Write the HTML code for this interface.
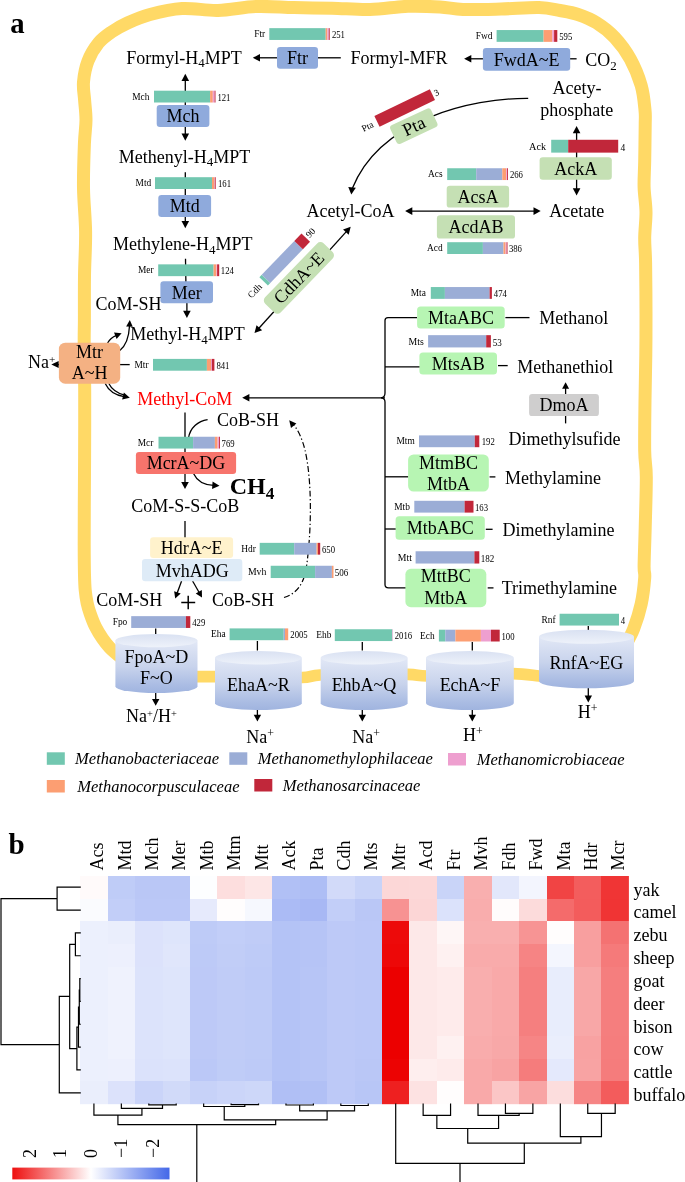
<!DOCTYPE html>
<html lang="en"><head><meta charset="utf-8"><title>Methanogenesis pathways and heatmap</title>
<style>html,body{margin:0;padding:0;background:#fff}svg{display:block}</style></head>
<body>
<svg width="685" height="1182" viewBox="0 0 685 1182" font-family="Liberation Serif, serif">
<defs>
<linearGradient id="cg" x1="0" y1="0" x2="0" y2="1"><stop offset="0" stop-color="#E2E8F6"/><stop offset="0.5" stop-color="#C8D3EC"/><stop offset="0.85" stop-color="#AABCE3"/><stop offset="1" stop-color="#A0B4DF"/></linearGradient>
<linearGradient id="ce" x1="0" y1="0" x2="0" y2="1"><stop offset="0" stop-color="#D9E1F2"/><stop offset="1" stop-color="#EEF2FA"/></linearGradient>
<linearGradient id="lg" x1="0" y1="0" x2="1" y2="0"><stop offset="0" stop-color="#EE0F0F"/><stop offset="0.5" stop-color="#FFFFFF"/><stop offset="1" stop-color="#4468E8"/></linearGradient>
</defs>
<rect width="685" height="1182" fill="#fff"/>
<path d="M123 659 C121.83 658.05 118.25 655.25 116 653.3 C113.75 651.35 111.77 649.78 109.5 647.3 C107.23 644.82 104.75 641.83 102.4 638.4 C100.05 634.97 97.42 630.77 95.4 626.7 C93.38 622.63 91.67 617.88 90.3 614 C88.93 610.12 88.05 607.4 87.2 603.4 C86.35 599.4 85.65 594.73 85.2 590 C84.75 585.27 84.67 582.5 84.5 575 C84.33 567.5 84.23 556.33 84.2 545 C84.17 533.67 84.23 521.83 84.3 507 C84.37 492.17 84.53 475 84.6 456 C84.67 437 84.77 412 84.7 393 C84.63 374 84.25 354.17 84.2 342 C84.15 329.83 84.35 331 84.4 320 C84.45 309 84.3 290.67 84.5 276 C84.7 261.33 85.77 246.67 85.6 232 C85.43 217.33 83.7 202.67 83.5 188 C83.3 173.33 83.98 155.33 84.4 144 C84.82 132.67 85.97 127.33 86 120 C86.03 112.67 85.02 106.33 84.6 100 C84.18 93.67 82.93 88.5 83.5 82 C84.07 75.5 85.5 67.5 88 61 C90.5 54.5 94.58 47.83 98.5 43 C102.42 38.17 106.67 35.33 111.5 32 C116.33 28.67 121.08 25.92 127.5 23 C133.92 20.08 140.92 16.92 150 14.5 C159.08 12.08 170.67 9.18 182 8.5 C193.33 7.82 205.67 10.73 218 10.4 C230.33 10.07 243.33 6.97 256 6.5 C268.67 6.03 281.33 7.32 294 7.6 C306.67 7.88 319.33 7.88 332 8.2 C344.67 8.52 357.33 9.82 370 9.5 C382.67 9.18 396.33 6.72 408 6.3 C419.67 5.88 430.83 6.47 440 7 C449.17 7.53 452.83 9.17 463 9.5 C473.17 9.83 488.33 9.33 501 9 C513.67 8.67 529.17 7.25 539 7.5 C548.83 7.75 553.5 9.33 560 10.5 C566.5 11.67 571.92 12.45 578 14.5 C584.08 16.55 590.38 18.97 596.5 22.8 C602.62 26.63 609.07 31.47 614.7 37.5 C620.33 43.53 625.88 51 630.3 59 C634.72 67 638.75 77 641.2 85.5 C643.65 94 644.33 103.42 645 110 C645.67 116.58 645.25 116.5 645.2 125 C645.15 133.5 644.88 150.67 644.7 161 C644.52 171.33 643.88 178.5 644.1 187 C644.32 195.5 645.9 203.5 646 212 C646.1 220.5 644.77 229.5 644.7 238 C644.63 246.5 645.38 250.33 645.6 263 C645.82 275.67 645.97 298.67 646 314 C646.03 329.33 645.97 340.5 645.8 355 C645.63 369.5 645.18 385 645 401 C644.82 417 644.48 438.33 644.7 451 C644.92 463.67 646.22 464.17 646.3 477 C646.38 489.83 645.57 513.17 645.2 528 C644.83 542.83 644.18 557.67 644.1 566 C644.02 574.33 645.18 571.67 644.7 578 C644.22 584.33 643.05 595.5 641.2 604 C639.35 612.5 636.13 622.33 633.6 629 C631.07 635.67 627.27 641.5 626 644" fill="none" stroke="#FFD966" stroke-width="13" stroke-linecap="butt" stroke-linejoin="round"/>
<path d="M190 676.6 C194.17 676.6 203.33 676.53 215 676.6 C226.67 676.67 245.5 676.85 260 677 C274.5 677.15 292 677.83 302 677.5 C312 677.17 309.67 675.5 320 675 C330.33 674.5 349.33 674.6 364 674.5 C378.67 674.4 397.5 674.15 408 674.4 C418.5 674.65 416.67 675.82 427 676 C437.33 676.18 455.67 675.9 470 675.5 C484.33 675.1 501.5 673.52 513 673.6 C524.5 673.68 532.83 675.43 539 676 C545.17 676.57 548.17 676.83 550 677" fill="none" stroke="#FFD966" stroke-width="11.6"/>
<text x="10.3" y="32.5" font-size="28.7" text-anchor="start" fill="#000" font-weight="bold">a</text>
<text x="8.5" y="853.8" font-size="29" text-anchor="start" fill="#000" font-weight="bold">b</text>
<polygon points="185.3,140.8 181.5,133.6 189.1,133.6" fill="#000"/>
<polygon points="185.3,73.7 189.1,80.9 181.5,80.9" fill="#000"/>
<line x1="185.3" y1="79.9" x2="185.3" y2="134.6" stroke="#000" stroke-width="1.3"/>
<polygon points="185.3,228.2 181.5,221 189.1,221" fill="#000"/>
<line x1="185.3" y1="172.3" x2="185.3" y2="222" stroke="#000" stroke-width="1.3"/>
<line x1="185.5" y1="258.8" x2="185.9" y2="283" stroke="#000" stroke-width="1.3"/>
<polygon points="186.9,318 183.1,310.8 190.7,310.8" fill="#000"/>
<line x1="186.9" y1="300" x2="186.9" y2="311.8" stroke="#000" stroke-width="1.3"/>
<polygon points="185,489.1 181.2,481.9 188.8,481.9" fill="#000"/>
<line x1="185" y1="412.6" x2="185" y2="482.9" stroke="#000" stroke-width="1.3"/>
<line x1="185" y1="521" x2="185" y2="538" stroke="#000" stroke-width="1.3"/>
<polygon points="175.2,598.5 174.15,591.19 180.72,593.6" fill="#000"/>
<line x1="181.6" y1="581" x2="177.09" y2="593.33" stroke="#000" stroke-width="1.3"/>
<polygon points="202,597.5 195.74,593.58 201.82,590.12" fill="#000"/>
<line x1="192.6" y1="581" x2="199.28" y2="592.72" stroke="#000" stroke-width="1.3"/>
<polygon points="252.8,57.8 260,54 260,61.6" fill="#000"/>
<line x1="278" y1="57.8" x2="259" y2="57.8" stroke="#000" stroke-width="1.3"/>
<line x1="318" y1="57.8" x2="340.8" y2="57.8" stroke="#000" stroke-width="1.3"/>
<polygon points="464.1,58.8 471.3,55 471.3,62.6" fill="#000"/>
<line x1="484" y1="58.8" x2="470.3" y2="58.8" stroke="#000" stroke-width="1.3"/>
<line x1="570" y1="58.8" x2="576.6" y2="58.8" stroke="#000" stroke-width="1.3"/>
<polygon points="540.7,211.1 533.5,214.9 533.5,207.3" fill="#000"/>
<polygon points="405.1,211.1 412.3,207.3 412.3,214.9" fill="#000"/>
<line x1="411.3" y1="211.1" x2="534.5" y2="211.1" stroke="#000" stroke-width="1.3"/>
<polygon points="576.6,195.4 572.8,188.2 580.4,188.2" fill="#000"/>
<polygon points="576.6,126 580.4,133.2 572.8,133.2" fill="#000"/>
<line x1="576.6" y1="132.2" x2="576.6" y2="189.2" stroke="#000" stroke-width="1.3"/>
<path d="M528.2 98.4 C470 98 380 120 352.5 188" fill="none" stroke="#000" stroke-width="1.3" />
<polygon points="351.3,194.6 348.27,187.04 355.83,187.84" fill="#000"/>
<polygon points="350.7,226.8 348.69,234.69 343.05,229.59" fill="#000"/>
<polygon points="254.5,333.1 256.51,325.21 262.15,330.31" fill="#000"/>
<line x1="258.66" y1="328.5" x2="346.54" y2="231.4" stroke="#000" stroke-width="1.3"/>
<line x1="129.7" y1="364.6" x2="119" y2="364.6" stroke="#000" stroke-width="1.3"/>
<polygon points="51.3,364.6 58.7,361.1 58.7,368.1" fill="#000"/>
<line x1="59.5" y1="364.6" x2="57.7" y2="364.6" stroke="#000" stroke-width="1.3"/>
<path d="M119.8 350.5 C126 345.5 129 336 129.5 326" fill="none" stroke="#000" stroke-width="1.3" />
<polygon points="129.8,319.9 132.74,326.86 126.15,326.52" fill="#000"/>
<path d="M107.6 343 C110 338.5 113.5 336.5 116.5 335.3" fill="none" stroke="#000" stroke-width="1.3" />
<polygon points="121.6,333.2 116.57,338.9 114.02,332.59" fill="#000"/>
<path d="M105.2 383.5 C108.5 390.5 115.5 395.2 124 396.6" fill="none" stroke="#000" stroke-width="1.3" />
<path d="M108.8 383.5 C111.5 389 117.5 393.2 124.5 395.2" fill="none" stroke="#000" stroke-width="1.3" />
<polygon points="129.8,397.7 122.16,399.4 123.85,392.61" fill="#000"/>
<path d="M417 317.6 L388 317.6 Q385 317.6 385 320.6 L385 393 Q385 397.6 381 397.8 Q385 398 385 402 L385 584.5 Q385 587.9 388.5 587.9 L406 587.9" fill="none" stroke="#000" stroke-width="1.3" />
<polygon points="242.2,397.8 249.4,394 249.4,401.6" fill="#000"/>
<line x1="385" y1="397.8" x2="248.4" y2="397.8" stroke="#000" stroke-width="1.3"/>
<line x1="385" y1="366.8" x2="420" y2="366.8" stroke="#000" stroke-width="1.3"/>
<line x1="385" y1="476.8" x2="408.5" y2="476.8" stroke="#000" stroke-width="1.3"/>
<line x1="385" y1="529" x2="396" y2="529" stroke="#000" stroke-width="1.3"/>
<line x1="505.4" y1="317.6" x2="529.5" y2="317.6" stroke="#000" stroke-width="1.3"/>
<line x1="498" y1="365.6" x2="507.7" y2="365.6" stroke="#000" stroke-width="1.3"/>
<line x1="489.6" y1="476.9" x2="495.4" y2="476.9" stroke="#000" stroke-width="1.3"/>
<line x1="485.8" y1="529.3" x2="492.6" y2="529.3" stroke="#000" stroke-width="1.3"/>
<line x1="487.7" y1="587.9" x2="493.5" y2="587.9" stroke="#000" stroke-width="1.3"/>
<polygon points="565.6,382.3 569.1,388.8 562.1,388.8" fill="#000"/>
<line x1="565.6" y1="395" x2="565.6" y2="387.8" stroke="#000" stroke-width="1.3"/>
<line x1="565.6" y1="416" x2="565.6" y2="423.4" stroke="#000" stroke-width="1.3"/>
<path d="M207.6 419.6 C198 421 190 428 188.5 438" fill="none" stroke="#000" stroke-width="1.3" />
<path d="M193.5 473.5 C197 481 205 485 213.5 485.4" fill="none" stroke="#000" stroke-width="1.3" />
<polygon points="219.5,485.7 212.05,488.99 212.58,481.41" fill="#000"/>
<path d="M284 597.5 C296 594 303 585 306 570 C312 530 312 480 305 450 C302 438 298 430 293.5 424.5" fill="none" stroke="#000" stroke-width="1.2" stroke-dasharray="6 2.5 1.3 2.5"/>
<polygon points="289.2,420.3 296.38,423.41 291.02,427.91" fill="#000"/>
<line x1="155.7" y1="628.5" x2="155.7" y2="634" stroke="#000" stroke-width="1.3"/>
<polygon points="155.7,705.8 152,699 159.4,699" fill="#000"/>
<line x1="155.7" y1="692" x2="155.7" y2="700" stroke="#000" stroke-width="1.3"/>
<line x1="257.4" y1="641" x2="257.4" y2="650.5" stroke="#000" stroke-width="1.3"/>
<polygon points="257.4,721.5 253.7,714.7 261.1,714.7" fill="#000"/>
<line x1="257.4" y1="708" x2="257.4" y2="715.7" stroke="#000" stroke-width="1.3"/>
<line x1="362.3" y1="642" x2="362.3" y2="650.5" stroke="#000" stroke-width="1.3"/>
<polygon points="362.3,721.5 358.6,714.7 366,714.7" fill="#000"/>
<line x1="362.3" y1="708" x2="362.3" y2="715.7" stroke="#000" stroke-width="1.3"/>
<line x1="472.3" y1="642" x2="472.3" y2="650.5" stroke="#000" stroke-width="1.3"/>
<polygon points="472.3,721.5 468.6,714.7 476,714.7" fill="#000"/>
<line x1="472.3" y1="708" x2="472.3" y2="715.7" stroke="#000" stroke-width="1.3"/>
<line x1="588.3" y1="626" x2="588.3" y2="630" stroke="#000" stroke-width="1.3"/>
<polygon points="588.3,702.4 584.6,695.6 592,695.6" fill="#000"/>
<line x1="588.3" y1="687" x2="588.3" y2="696.6" stroke="#000" stroke-width="1.3"/>
<rect x="269.3" y="28.15" width="56.4" height="11.8" fill="#72C7B0"/>
<rect x="325.7" y="28.15" width="1.7" height="11.8" fill="#FC9E72"/>
<rect x="327.4" y="28.15" width="1.4" height="11.8" fill="#EE9FCF"/>
<rect x="328.8" y="28.15" width="0.9" height="11.8" fill="#C1273A"/>
<text x="254.2" y="37.15" font-size="9.4" text-anchor="start" fill="#000" >Ftr</text>
<text transform="translate(331.9 38.15) scale(0.89 1)" font-size="9.8">251</text>
<rect x="154" y="90.7" width="56.1" height="11.8" fill="#72C7B0"/>
<rect x="210.1" y="90.7" width="2.7" height="11.8" fill="#FC9E72"/>
<rect x="212.8" y="90.7" width="1.8" height="11.8" fill="#EE9FCF"/>
<rect x="214.6" y="90.7" width="0.9" height="11.8" fill="#C1273A"/>
<text x="132.2" y="99.7" font-size="9.4" text-anchor="start" fill="#000" >Mch</text>
<text transform="translate(217.4 100.7) scale(0.89 1)" font-size="9.8">121</text>
<rect x="155" y="177.2" width="57" height="11.8" fill="#72C7B0"/>
<rect x="212" y="177.2" width="2.3" height="11.8" fill="#FC9E72"/>
<rect x="214.3" y="177.2" width="0.5" height="11.8" fill="#EE9FCF"/>
<rect x="214.8" y="177.2" width="0.9" height="11.8" fill="#C1273A"/>
<text x="135.6" y="186.2" font-size="9.4" text-anchor="start" fill="#000" >Mtd</text>
<text transform="translate(218 187.2) scale(0.89 1)" font-size="9.8">161</text>
<rect x="158.2" y="264.35" width="55.4" height="11.8" fill="#72C7B0"/>
<rect x="213.6" y="264.35" width="2.8" height="11.8" fill="#FC9E72"/>
<rect x="216.4" y="264.35" width="0.7" height="11.8" fill="#EE9FCF"/>
<rect x="217.1" y="264.35" width="2.1" height="11.8" fill="#C1273A"/>
<text x="137.9" y="273.35" font-size="9.4" text-anchor="start" fill="#000" >Mer</text>
<text transform="translate(220.8 274.35) scale(0.89 1)" font-size="9.8">124</text>
<rect x="153" y="358.9" width="53.9" height="11.8" fill="#72C7B0"/>
<rect x="206.9" y="358.9" width="4.1" height="11.8" fill="#FC9E72"/>
<rect x="211" y="358.9" width="0.9" height="11.8" fill="#EE9FCF"/>
<rect x="211.9" y="358.9" width="2.5" height="11.8" fill="#C1273A"/>
<text x="134.5" y="367.9" font-size="9.4" text-anchor="start" fill="#000" >Mtr</text>
<text transform="translate(216.4 368.9) scale(0.89 1)" font-size="9.8">841</text>
<rect x="158.5" y="436.75" width="34.6" height="11.8" fill="#72C7B0"/>
<rect x="193.1" y="436.75" width="21.8" height="11.8" fill="#9BADD6"/>
<rect x="214.9" y="436.75" width="2.7" height="11.8" fill="#FC9E72"/>
<rect x="217.6" y="436.75" width="1.5" height="11.8" fill="#EE9FCF"/>
<rect x="219.1" y="436.75" width="0.9" height="11.8" fill="#C1273A"/>
<text x="137.7" y="445.75" font-size="9.4" text-anchor="start" fill="#000" >Mcr</text>
<text transform="translate(221.6 446.75) scale(0.89 1)" font-size="9.8">769</text>
<rect x="259.7" y="542.85" width="34.5" height="11.8" fill="#72C7B0"/>
<rect x="294.2" y="542.85" width="22.4" height="11.8" fill="#9BADD6"/>
<rect x="316.6" y="542.85" width="1.4" height="11.8" fill="#FC9E72"/>
<rect x="318" y="542.85" width="2.2" height="11.8" fill="#C1273A"/>
<text x="241.2" y="551.85" font-size="9.4" text-anchor="start" fill="#000" >Hdr</text>
<text transform="translate(322 552.85) scale(0.89 1)" font-size="9.8">650</text>
<rect x="270.7" y="565.76" width="44.4" height="12.27" fill="#72C7B0"/>
<rect x="315.1" y="565.76" width="16.8" height="12.27" fill="#9BADD6"/>
<rect x="331.9" y="565.76" width="1.6" height="12.27" fill="#FC9E72"/>
<text x="247.9" y="575.12" font-size="9.78" text-anchor="start" fill="#000" >Mvh</text>
<text transform="translate(334.7 576.12) scale(0.89 1)" font-size="10.19">506</text>
<rect x="131.2" y="616.15" width="54.7" height="11.8" fill="#9BADD6"/>
<rect x="185.9" y="616.15" width="4.4" height="11.8" fill="#C1273A"/>
<text x="112.7" y="625.15" font-size="9.4" text-anchor="start" fill="#000" >Fpo</text>
<text transform="translate(192.2 626.15) scale(0.89 1)" font-size="9.8">429</text>
<rect x="229.6" y="628.4" width="54.1" height="11.8" fill="#72C7B0"/>
<rect x="283.7" y="628.4" width="1.3" height="11.8" fill="#9BADD6"/>
<rect x="285" y="628.4" width="3.2" height="11.8" fill="#FC9E72"/>
<text x="211.1" y="637.4" font-size="9.4" text-anchor="start" fill="#000" >Eha</text>
<text transform="translate(290.3 638.4) scale(0.89 1)" font-size="9.8">2005</text>
<rect x="334.8" y="629.25" width="57.5" height="11.8" fill="#72C7B0"/>
<rect x="392.3" y="629.25" width="0.5" height="11.8" fill="#EE9FCF"/>
<text x="316.3" y="638.25" font-size="9.4" text-anchor="start" fill="#000" >Ehb</text>
<text transform="translate(394.7 639.25) scale(0.89 1)" font-size="9.8">2016</text>
<rect x="438.9" y="629.7" width="6.4" height="11.8" fill="#72C7B0"/>
<rect x="445.3" y="629.7" width="10.1" height="11.8" fill="#9BADD6"/>
<rect x="455.4" y="629.7" width="25.5" height="11.8" fill="#FC9E72"/>
<rect x="480.9" y="629.7" width="10.1" height="11.8" fill="#EE9FCF"/>
<rect x="491" y="629.7" width="8.7" height="11.8" fill="#C1273A"/>
<text x="420.1" y="638.7" font-size="9.4" text-anchor="start" fill="#000" >Ech</text>
<text transform="translate(501.5 639.7) scale(0.89 1)" font-size="9.8">100</text>
<rect x="559.6" y="613.75" width="59.4" height="11.8" fill="#72C7B0"/>
<text x="541.6" y="622.75" font-size="9.4" text-anchor="start" fill="#000" >Rnf</text>
<text transform="translate(620.7 623.75) scale(0.89 1)" font-size="9.8">4</text>
<rect x="496.6" y="30.05" width="47" height="11.8" fill="#72C7B0"/>
<rect x="543.6" y="30.05" width="8.7" height="11.8" fill="#FC9E72"/>
<rect x="552.3" y="30.05" width="1.8" height="11.8" fill="#EE9FCF"/>
<rect x="554.1" y="30.05" width="3.2" height="11.8" fill="#C1273A"/>
<text x="475.8" y="39.05" font-size="9.4" text-anchor="start" fill="#000" >Fwd</text>
<text transform="translate(559.2 40.05) scale(0.89 1)" font-size="9.8">595</text>
<rect x="551.2" y="139.77" width="17" height="12.86" fill="#72C7B0"/>
<rect x="568.2" y="139.77" width="50" height="12.86" fill="#C1273A"/>
<text x="529" y="149.58" font-size="10.25" text-anchor="start" fill="#000" >Ack</text>
<text transform="translate(620.6 150.58) scale(0.89 1)" font-size="10.68">4</text>
<rect x="447.2" y="168.25" width="29" height="11.8" fill="#72C7B0"/>
<rect x="476.2" y="168.25" width="26.1" height="11.8" fill="#9BADD6"/>
<rect x="502.3" y="168.25" width="3.9" height="11.8" fill="#FC9E72"/>
<rect x="506.2" y="168.25" width="0.8" height="11.8" fill="#EE9FCF"/>
<rect x="507" y="168.25" width="0.9" height="11.8" fill="#C1273A"/>
<text x="428" y="177.25" font-size="9.4" text-anchor="start" fill="#000" >Acs</text>
<text transform="translate(509.9 178.25) scale(0.89 1)" font-size="9.8">266</text>
<rect x="447.2" y="242.2" width="35.7" height="11.8" fill="#72C7B0"/>
<rect x="482.9" y="242.2" width="20.6" height="11.8" fill="#9BADD6"/>
<rect x="503.5" y="242.2" width="2.1" height="11.8" fill="#FC9E72"/>
<rect x="505.6" y="242.2" width="1" height="11.8" fill="#EE9FCF"/>
<rect x="506.6" y="242.2" width="0.9" height="11.8" fill="#C1273A"/>
<text x="427.1" y="251.2" font-size="9.4" text-anchor="start" fill="#000" >Acd</text>
<text transform="translate(508.9 252.2) scale(0.89 1)" font-size="9.8">386</text>
<rect x="430.8" y="287.05" width="14.1" height="11.8" fill="#72C7B0"/>
<rect x="444.9" y="287.05" width="44.7" height="11.8" fill="#9BADD6"/>
<rect x="489.6" y="287.05" width="2.3" height="11.8" fill="#C1273A"/>
<text x="410.7" y="296.05" font-size="9.4" text-anchor="start" fill="#000" >Mta</text>
<text transform="translate(493.8 297.05) scale(0.89 1)" font-size="9.8">474</text>
<rect x="428.1" y="335.16" width="58.1" height="12.27" fill="#9BADD6"/>
<rect x="486.2" y="335.16" width="4.7" height="12.27" fill="#C1273A"/>
<text x="408.6" y="344.52" font-size="9.78" text-anchor="start" fill="#000" >Mts</text>
<text transform="translate(492.8 345.52) scale(0.89 1)" font-size="10.19">53</text>
<rect x="419" y="435.4" width="55.8" height="11.8" fill="#9BADD6"/>
<rect x="474.8" y="435.4" width="4.5" height="11.8" fill="#C1273A"/>
<text x="396.5" y="444.4" font-size="9.4" text-anchor="start" fill="#000" >Mtm</text>
<text transform="translate(481.7 445.4) scale(0.89 1)" font-size="9.8">192</text>
<rect x="414.3" y="500.8" width="50.3" height="11.8" fill="#9BADD6"/>
<rect x="464.6" y="500.8" width="8.9" height="11.8" fill="#C1273A"/>
<text x="394.2" y="509.8" font-size="9.4" text-anchor="start" fill="#000" >Mtb</text>
<text transform="translate(475 510.8) scale(0.89 1)" font-size="9.8">163</text>
<rect x="415.6" y="551.26" width="58.8" height="12.27" fill="#9BADD6"/>
<rect x="474.4" y="551.26" width="4.9" height="12.27" fill="#C1273A"/>
<text x="397.8" y="560.62" font-size="9.78" text-anchor="start" fill="#000" >Mtt</text>
<text transform="translate(480.8 561.62) scale(0.89 1)" font-size="10.19">182</text>
<g transform="translate(404.7 108) rotate(-25.8)">
<rect x="-30.8" y="-5.95" width="61.6" height="11.9" fill="#C1273A"/>
<text x="-35.5" y="3.6" font-size="9.5" text-anchor="end" fill="#000" >Pta</text>
<text x="33" y="3.2" font-size="9.3" text-anchor="start" fill="#000" >3</text>
</g>
<g transform="translate(284.7 259.5) rotate(-46)">
<rect x="-30.3" y="-5.95" width="3.4" height="11.9" fill="#72C7B0"/><rect x="-26.9" y="-5.95" width="46.9" height="11.9" fill="#9BADD6"/><rect x="20" y="-5.95" width="10.3" height="11.9" fill="#C1273A"/>
<text x="-35.5" y="3.4" font-size="9.5" text-anchor="end" fill="#000" >Cdh</text>
<text x="32.5" y="3.2" font-size="9.3" text-anchor="start" fill="#000" >90</text>
</g>
<rect x="277" y="47" width="41" height="21.8" rx="3.2" fill="#8FAADC"/>
<text x="297.5" y="64.24" font-size="18" text-anchor="middle" fill="#000" >Ftr</text>
<rect x="156.7" y="105.1" width="52.7" height="21.8" rx="3.2" fill="#8FAADC"/>
<text x="183.05" y="122.34" font-size="18" text-anchor="middle" fill="#000" >Mch</text>
<rect x="158.3" y="194.9" width="52.8" height="22.1" rx="3.2" fill="#8FAADC"/>
<text x="184.7" y="212.29" font-size="18" text-anchor="middle" fill="#000" >Mtd</text>
<rect x="160.4" y="281.2" width="52.6" height="22" rx="3.2" fill="#8FAADC"/>
<text x="186.7" y="298.54" font-size="18" text-anchor="middle" fill="#000" >Mer</text>
<rect x="482.9" y="48" width="87.3" height="22.7" rx="3.2" fill="#8FAADC"/>
<text x="526.55" y="65.69" font-size="18" text-anchor="middle" fill="#000" >FwdA~E</text>
<g transform="translate(413.8 126.2) rotate(-25)">
<rect x="-22.5" y="-10.25" width="45" height="20.5" rx="3.2" fill="#C5E0B4"/>
<text x="0" y="5.94" font-size="18" text-anchor="middle" fill="#000" >Pta</text>
</g>
<rect x="539.6" y="157.2" width="72.2" height="22.5" rx="3.2" fill="#C5E0B4"/>
<text x="575.7" y="174.79" font-size="18" text-anchor="middle" fill="#000" >AckA</text>
<rect x="446.7" y="185.8" width="62.4" height="21.8" rx="3.2" fill="#C5E0B4"/>
<text x="477.9" y="203.04" font-size="18" text-anchor="middle" fill="#000" >AcsA</text>
<rect x="436.9" y="215.3" width="78.1" height="23.3" rx="3.2" fill="#C5E0B4"/>
<text x="475.95" y="233.29" font-size="18" text-anchor="middle" fill="#000" >AcdAB</text>
<g transform="translate(298.9 277.9) rotate(-46)">
<rect x="-42" y="-10.8" width="84" height="21.6" rx="4.5" fill="#C5E0B4"/>
<text x="0" y="5.94" font-size="18" text-anchor="middle" fill="#000" >CdhA~E</text>
</g>
<rect x="58.9" y="342.7" width="61.3" height="41" rx="6.3" fill="#F4B183"/>
<text x="89.55" y="358.2" font-size="18" text-anchor="middle" fill="#000" >Mtr</text>
<text x="89.55" y="379.2" font-size="18" text-anchor="middle" fill="#000" >A~H</text>
<rect x="135.9" y="452" width="100.2" height="21.9" rx="3.2" fill="#F7746C"/>
<text x="186" y="469.29" font-size="18" text-anchor="middle" fill="#000" >McrA~DG</text>
<rect x="150.1" y="537.3" width="83" height="20.7" rx="3.2" fill="#FFF2CC"/>
<text x="191.6" y="553.99" font-size="18" text-anchor="middle" fill="#000" >HdrA~E</text>
<rect x="142" y="559" width="100.3" height="22.2" rx="3.2" fill="#DEEBF7"/>
<text x="192.15" y="576.84" font-size="18" text-anchor="middle" fill="#000" >MvhADG</text>
<rect x="417.1" y="306.4" width="87.6" height="22.2" rx="3.6" fill="#B7F5B3"/>
<text x="460.9" y="323.84" font-size="18" text-anchor="middle" fill="#000" >MtaABC</text>
<rect x="419.4" y="352.4" width="77.6" height="22.2" rx="3.6" fill="#B7F5B3"/>
<text x="458.2" y="369.84" font-size="18" text-anchor="middle" fill="#000" >MtsAB</text>
<rect x="529.1" y="394" width="69.8" height="22.1" rx="3.2" fill="#CFCECE"/>
<text x="564" y="411.39" font-size="18" text-anchor="middle" fill="#000" >DmoA</text>
<rect x="408.1" y="454.4" width="80.7" height="37.2" rx="5.5" fill="#B7F5B3"/>
<text x="448.45" y="468.6" font-size="18" text-anchor="middle" fill="#000" >MtmBC</text>
<text x="448.45" y="490.1" font-size="18" text-anchor="middle" fill="#000" >MtbA</text>
<rect x="395.6" y="516.3" width="89.2" height="23.5" rx="3.6" fill="#B7F5B3"/>
<text x="440.2" y="534.39" font-size="18" text-anchor="middle" fill="#000" >MtbABC</text>
<rect x="405.4" y="568.8" width="80.9" height="38.4" rx="5.5" fill="#B7F5B3"/>
<text x="445.85" y="582.3" font-size="18" text-anchor="middle" fill="#000" >MttBC</text>
<text x="445.85" y="603.8" font-size="18" text-anchor="middle" fill="#000" >MtbA</text>
<path d="M115.4 640.6 L115.4 686.4 A41.05 6.6 0 0 0 197.5 686.4 L197.5 640.6 Z" fill="url(#cg)"/>
<ellipse cx="156.45" cy="640.6" rx="41.05" ry="6.6" fill="url(#ce)"/>
<path d="M215 657.8 L215 703.2 A43.4 6.8 0 0 0 301.8 703.2 L301.8 657.8 Z" fill="url(#cg)"/>
<ellipse cx="258.4" cy="657.8" rx="43.4" ry="6.8" fill="url(#ce)"/>
<path d="M320.7 657.8 L320.7 703.2 A43.45 6.8 0 0 0 407.6 703.2 L407.6 657.8 Z" fill="url(#cg)"/>
<ellipse cx="364.15" cy="657.8" rx="43.45" ry="6.8" fill="url(#ce)"/>
<path d="M426 657.8 L426 703.2 A43.9 6.8 0 0 0 513.8 703.2 L513.8 657.8 Z" fill="url(#cg)"/>
<ellipse cx="469.9" cy="657.8" rx="43.9" ry="6.8" fill="url(#ce)"/>
<path d="M539 636.8 L539 681.2 A47.5 7 0 0 0 634 681.2 L634 636.8 Z" fill="url(#cg)"/>
<ellipse cx="586.5" cy="636.8" rx="47.5" ry="7" fill="url(#ce)"/>
<text x="156.4" y="663.2" font-size="18" text-anchor="middle" fill="#000" >FpoA~D</text>
<text x="156.4" y="684.4" font-size="18" text-anchor="middle" fill="#000" >F~O</text>
<text x="258.4" y="691.1" font-size="18" text-anchor="middle" fill="#000" >EhaA~R</text>
<text x="364" y="691.1" font-size="18" text-anchor="middle" fill="#000" >EhbA~Q</text>
<text x="470" y="691.1" font-size="18" text-anchor="middle" fill="#000" >EchA~F</text>
<text x="586.3" y="669" font-size="18" text-anchor="middle" fill="#000" >RnfA~EG</text>
<text x="126.3" y="63.6" font-size="18" text-anchor="start" fill="#000" >Formyl-H<tspan font-size="12.96" dy="3.6">4</tspan><tspan dy="-3.6">MPT</tspan></text>
<text x="118.7" y="162.6" font-size="18" text-anchor="start" fill="#000" >Methenyl-H<tspan font-size="12.96" dy="3.6">4</tspan><tspan dy="-3.6">MPT</tspan></text>
<text x="113" y="249.9" font-size="18" text-anchor="start" fill="#000" >Methylene-H<tspan font-size="12.96" dy="3.6">4</tspan><tspan dy="-3.6">MPT</tspan></text>
<text x="130.3" y="339.9" font-size="18" text-anchor="start" fill="#000" >Methyl-H<tspan font-size="12.96" dy="3.6">4</tspan><tspan dy="-3.6">MPT</tspan></text>
<text x="95.6" y="309.9" font-size="18" text-anchor="start" fill="#000" >CoM-SH</text>
<text x="137.3" y="405.1" font-size="18" text-anchor="start" fill="#FF0000" >Methyl-CoM</text>
<text x="217" y="426.2" font-size="18" text-anchor="start" fill="#000" >CoB-SH</text>
<text x="131.3" y="511.5" font-size="18" text-anchor="start" fill="#000" >CoM-S-S-CoB</text>
<text x="96.3" y="605.5" font-size="18" text-anchor="start" fill="#000" >CoM-SH</text>
<text x="212" y="605.5" font-size="18" text-anchor="start" fill="#000" >CoB-SH</text>
<text x="188.3" y="612.4" font-size="30" text-anchor="middle" fill="#000" >+</text>
<text x="229.7" y="493.7" font-size="24" text-anchor="start" fill="#000" font-weight="bold">CH<tspan font-size="17.28" dy="4.8">4</tspan></text>
<text x="350.5" y="64" font-size="18" text-anchor="start" fill="#000" >Formyl-MFR</text>
<text x="585.3" y="66.4" font-size="18" text-anchor="start" fill="#000" >CO<tspan font-size="12.96" dy="3.6">2</tspan></text>
<text x="552.6" y="93.5" font-size="18" text-anchor="start" fill="#000" >Acety-</text>
<text x="540.3" y="115.7" font-size="18" text-anchor="start" fill="#000" >phosphate</text>
<text x="306.5" y="217.1" font-size="18" text-anchor="start" fill="#000" >Acetyl-CoA</text>
<text x="549.3" y="216.9" font-size="18" text-anchor="start" fill="#000" >Acetate</text>
<text x="539.3" y="323.5" font-size="18" text-anchor="start" fill="#000" >Methanol</text>
<text x="517.2" y="372.6" font-size="18" text-anchor="start" fill="#000" >Methanethiol</text>
<text x="508.6" y="444.7" font-size="18" text-anchor="start" fill="#000" >Dimethylsufide</text>
<text x="505.1" y="483.5" font-size="18" text-anchor="start" fill="#000" >Methylamine</text>
<text x="502.6" y="535.8" font-size="18" text-anchor="start" fill="#000" >Dimethylamine</text>
<text x="501.7" y="593.7" font-size="18" text-anchor="start" fill="#000" >Trimethylamine</text>
<text x="27.9" y="368.2" font-size="18" text-anchor="start" fill="#000" >Na<tspan font-size="11.16" dy="-4.86">+</tspan></text>
<text x="126.1" y="721.8" font-size="18" text-anchor="start" fill="#000" >Na<tspan font-size="10.44" dy="-4.68">+</tspan><tspan dy="4.68">/H</tspan><tspan font-size="10.44" dy="-4.68">+</tspan></text>
<text x="246.3" y="743" font-size="18" text-anchor="start" fill="#000" >Na<tspan font-size="11.88" dy="-5.58">+</tspan></text>
<text x="352.3" y="743" font-size="18" text-anchor="start" fill="#000" >Na<tspan font-size="11.88" dy="-5.58">+</tspan></text>
<text x="463.1" y="740.9" font-size="18" text-anchor="start" fill="#000" >H<tspan font-size="11.88" dy="-5.58">+</tspan></text>
<text x="577.7" y="717.6" font-size="18" text-anchor="start" fill="#000" >H<tspan font-size="11.88" dy="-5.58">+</tspan></text>
<rect x="46.8" y="752.3" width="18" height="12.5" fill="#72C7B0"/>
<text x="75.1" y="763.8" font-size="16.5" text-anchor="start" fill="#000" font-style="italic">Methanobacteriaceae</text>
<rect x="229.3" y="752.3" width="18" height="12.5" fill="#9BADD6"/>
<text x="257.8" y="763.8" font-size="16.5" text-anchor="start" fill="#000" font-style="italic">Methanomethylophilaceae</text>
<rect x="448" y="753" width="18" height="12.5" fill="#EE9FCF"/>
<text x="476.8" y="764.5" font-size="16.5" text-anchor="start" fill="#000" font-style="italic">Methanomicrobiaceae</text>
<rect x="46.8" y="780" width="18" height="12.5" fill="#FC9E72"/>
<text x="77.3" y="791.7" font-size="16.5" text-anchor="start" fill="#000" font-style="italic">Methanocorpusculaceae</text>
<rect x="254.3" y="779" width="18" height="12.5" fill="#C1273A"/>
<text x="282.7" y="791" font-size="16.5" text-anchor="start" fill="#000" font-style="italic">Methanosarcinaceae</text>
<g shape-rendering="crispEdges">
<rect x="80.2" y="875.8" width="27.93" height="23.34" fill="#fffafa"/>
<rect x="107.63" y="875.8" width="27.93" height="23.34" fill="#bfccf7"/>
<rect x="135.07" y="875.8" width="27.93" height="23.34" fill="#bac7f6"/>
<rect x="162.5" y="875.8" width="27.93" height="23.34" fill="#bac7f6"/>
<rect x="189.94" y="875.8" width="27.93" height="23.34" fill="#fdfeff"/>
<rect x="217.38" y="875.8" width="27.93" height="23.34" fill="#fddede"/>
<rect x="244.81" y="875.8" width="27.93" height="23.34" fill="#fde6e6"/>
<rect x="272.24" y="875.8" width="27.93" height="23.34" fill="#b1c0f5"/>
<rect x="299.68" y="875.8" width="27.93" height="23.34" fill="#aebef5"/>
<rect x="327.11" y="875.8" width="27.93" height="23.34" fill="#d2daf9"/>
<rect x="354.55" y="875.8" width="27.93" height="23.34" fill="#c8d3f8"/>
<rect x="381.98" y="875.8" width="27.93" height="23.34" fill="#fcd7d7"/>
<rect x="409.42" y="875.8" width="27.93" height="23.34" fill="#fcd8d8"/>
<rect x="436.85" y="875.8" width="27.93" height="23.34" fill="#c9d4f8"/>
<rect x="464.29" y="875.8" width="27.93" height="23.34" fill="#f9afaf"/>
<rect x="491.72" y="875.8" width="27.93" height="23.34" fill="#e2e7fb"/>
<rect x="519.16" y="875.8" width="27.93" height="23.34" fill="#f3f5fe"/>
<rect x="546.59" y="875.8" width="27.93" height="23.34" fill="#f14444"/>
<rect x="574.03" y="875.8" width="27.93" height="23.34" fill="#f35d5d"/>
<rect x="601.46" y="875.8" width="27.93" height="23.34" fill="#f03535"/>
<rect x="80.2" y="898.64" width="27.93" height="23.34" fill="#fafbfe"/>
<rect x="107.63" y="898.64" width="27.93" height="23.34" fill="#c2cef8"/>
<rect x="135.07" y="898.64" width="27.93" height="23.34" fill="#bbc8f7"/>
<rect x="162.5" y="898.64" width="27.93" height="23.34" fill="#bbc8f7"/>
<rect x="189.94" y="898.64" width="27.93" height="23.34" fill="#e6eafc"/>
<rect x="217.38" y="898.64" width="27.93" height="23.34" fill="#fffdfd"/>
<rect x="244.81" y="898.64" width="27.93" height="23.34" fill="#f6f8fe"/>
<rect x="272.24" y="898.64" width="27.93" height="23.34" fill="#abbbf5"/>
<rect x="299.68" y="898.64" width="27.93" height="23.34" fill="#a8b8f4"/>
<rect x="327.11" y="898.64" width="27.93" height="23.34" fill="#c2cef8"/>
<rect x="354.55" y="898.64" width="27.93" height="23.34" fill="#bac7f6"/>
<rect x="381.98" y="898.64" width="27.93" height="23.34" fill="#f79292"/>
<rect x="409.42" y="898.64" width="27.93" height="23.34" fill="#fcd6d6"/>
<rect x="436.85" y="898.64" width="27.93" height="23.34" fill="#dbe2fb"/>
<rect x="464.29" y="898.64" width="27.93" height="23.34" fill="#f9adad"/>
<rect x="491.72" y="898.64" width="27.93" height="23.34" fill="#fffcfc"/>
<rect x="519.16" y="898.64" width="27.93" height="23.34" fill="#fcdbdb"/>
<rect x="546.59" y="898.64" width="27.93" height="23.34" fill="#f46b6b"/>
<rect x="574.03" y="898.64" width="27.93" height="23.34" fill="#f35c5c"/>
<rect x="601.46" y="898.64" width="27.93" height="23.34" fill="#f03434"/>
<rect x="80.2" y="921.48" width="27.93" height="23.34" fill="#ecf0fd"/>
<rect x="107.63" y="921.48" width="27.93" height="23.34" fill="#eaeefc"/>
<rect x="135.07" y="921.48" width="27.93" height="23.34" fill="#dce2fb"/>
<rect x="162.5" y="921.48" width="27.93" height="23.34" fill="#dee5fb"/>
<rect x="189.94" y="921.48" width="27.93" height="23.34" fill="#becbf7"/>
<rect x="217.38" y="921.48" width="27.93" height="23.34" fill="#c2cef8"/>
<rect x="244.81" y="921.48" width="27.93" height="23.34" fill="#c0ccf7"/>
<rect x="272.24" y="921.48" width="27.93" height="23.34" fill="#b4c3f6"/>
<rect x="299.68" y="921.48" width="27.93" height="23.34" fill="#b6c4f6"/>
<rect x="327.11" y="921.48" width="27.93" height="23.34" fill="#bdc9f7"/>
<rect x="354.55" y="921.48" width="27.93" height="23.34" fill="#bbc8f7"/>
<rect x="381.98" y="921.48" width="27.93" height="23.34" fill="#ed0a0a"/>
<rect x="409.42" y="921.48" width="27.93" height="23.34" fill="#fde8e8"/>
<rect x="436.85" y="921.48" width="27.93" height="23.34" fill="#fef6f6"/>
<rect x="464.29" y="921.48" width="27.93" height="23.34" fill="#f9afaf"/>
<rect x="491.72" y="921.48" width="27.93" height="23.34" fill="#f9afaf"/>
<rect x="519.16" y="921.48" width="27.93" height="23.34" fill="#f79494"/>
<rect x="546.59" y="921.48" width="27.93" height="23.34" fill="#fffdfd"/>
<rect x="574.03" y="921.48" width="27.93" height="23.34" fill="#f89f9f"/>
<rect x="601.46" y="921.48" width="27.93" height="23.34" fill="#f47272"/>
<rect x="80.2" y="944.32" width="27.93" height="23.34" fill="#ecf0fd"/>
<rect x="107.63" y="944.32" width="27.93" height="23.34" fill="#edf0fd"/>
<rect x="135.07" y="944.32" width="27.93" height="23.34" fill="#dce2fb"/>
<rect x="162.5" y="944.32" width="27.93" height="23.34" fill="#e0e6fb"/>
<rect x="189.94" y="944.32" width="27.93" height="23.34" fill="#bdcaf7"/>
<rect x="217.38" y="944.32" width="27.93" height="23.34" fill="#c1cdf7"/>
<rect x="244.81" y="944.32" width="27.93" height="23.34" fill="#becbf7"/>
<rect x="272.24" y="944.32" width="27.93" height="23.34" fill="#b4c3f6"/>
<rect x="299.68" y="944.32" width="27.93" height="23.34" fill="#b6c4f6"/>
<rect x="327.11" y="944.32" width="27.93" height="23.34" fill="#bdc9f7"/>
<rect x="354.55" y="944.32" width="27.93" height="23.34" fill="#bbc8f7"/>
<rect x="381.98" y="944.32" width="27.93" height="23.34" fill="#ed0808"/>
<rect x="409.42" y="944.32" width="27.93" height="23.34" fill="#fde8e8"/>
<rect x="436.85" y="944.32" width="27.93" height="23.34" fill="#fef1f1"/>
<rect x="464.29" y="944.32" width="27.93" height="23.34" fill="#f9abab"/>
<rect x="491.72" y="944.32" width="27.93" height="23.34" fill="#f9abab"/>
<rect x="519.16" y="944.32" width="27.93" height="23.34" fill="#f68484"/>
<rect x="546.59" y="944.32" width="27.93" height="23.34" fill="#f4f6fe"/>
<rect x="574.03" y="944.32" width="27.93" height="23.34" fill="#f89f9f"/>
<rect x="601.46" y="944.32" width="27.93" height="23.34" fill="#f57a7a"/>
<rect x="80.2" y="967.16" width="27.93" height="23.34" fill="#ecf0fd"/>
<rect x="107.63" y="967.16" width="27.93" height="23.34" fill="#eff2fd"/>
<rect x="135.07" y="967.16" width="27.93" height="23.34" fill="#dce3fb"/>
<rect x="162.5" y="967.16" width="27.93" height="23.34" fill="#dee5fb"/>
<rect x="189.94" y="967.16" width="27.93" height="23.34" fill="#bdc9f7"/>
<rect x="217.38" y="967.16" width="27.93" height="23.34" fill="#c0ccf7"/>
<rect x="244.81" y="967.16" width="27.93" height="23.34" fill="#bdcaf7"/>
<rect x="272.24" y="967.16" width="27.93" height="23.34" fill="#b4c3f6"/>
<rect x="299.68" y="967.16" width="27.93" height="23.34" fill="#b7c5f6"/>
<rect x="327.11" y="967.16" width="27.93" height="23.34" fill="#bdc9f7"/>
<rect x="354.55" y="967.16" width="27.93" height="23.34" fill="#bbc8f7"/>
<rect x="381.98" y="967.16" width="27.93" height="23.34" fill="#ec0000"/>
<rect x="409.42" y="967.16" width="27.93" height="23.34" fill="#fde8e8"/>
<rect x="436.85" y="967.16" width="27.93" height="23.34" fill="#feebeb"/>
<rect x="464.29" y="967.16" width="27.93" height="23.34" fill="#f9aeae"/>
<rect x="491.72" y="967.16" width="27.93" height="23.34" fill="#f9a9a9"/>
<rect x="519.16" y="967.16" width="27.93" height="23.34" fill="#f57f7f"/>
<rect x="546.59" y="967.16" width="27.93" height="23.34" fill="#e8edfc"/>
<rect x="574.03" y="967.16" width="27.93" height="23.34" fill="#f8a7a7"/>
<rect x="601.46" y="967.16" width="27.93" height="23.34" fill="#f57e7e"/>
<rect x="80.2" y="990" width="27.93" height="23.34" fill="#ecf0fd"/>
<rect x="107.63" y="990" width="27.93" height="23.34" fill="#eff2fd"/>
<rect x="135.07" y="990" width="27.93" height="23.34" fill="#dce3fb"/>
<rect x="162.5" y="990" width="27.93" height="23.34" fill="#dee5fb"/>
<rect x="189.94" y="990" width="27.93" height="23.34" fill="#bdc9f7"/>
<rect x="217.38" y="990" width="27.93" height="23.34" fill="#c0ccf7"/>
<rect x="244.81" y="990" width="27.93" height="23.34" fill="#becbf7"/>
<rect x="272.24" y="990" width="27.93" height="23.34" fill="#b4c3f6"/>
<rect x="299.68" y="990" width="27.93" height="23.34" fill="#b7c5f6"/>
<rect x="327.11" y="990" width="27.93" height="23.34" fill="#bdc9f7"/>
<rect x="354.55" y="990" width="27.93" height="23.34" fill="#bbc8f7"/>
<rect x="381.98" y="990" width="27.93" height="23.34" fill="#ec0000"/>
<rect x="409.42" y="990" width="27.93" height="23.34" fill="#fde8e8"/>
<rect x="436.85" y="990" width="27.93" height="23.34" fill="#feebeb"/>
<rect x="464.29" y="990" width="27.93" height="23.34" fill="#f9aeae"/>
<rect x="491.72" y="990" width="27.93" height="23.34" fill="#f9a9a9"/>
<rect x="519.16" y="990" width="27.93" height="23.34" fill="#f57f7f"/>
<rect x="546.59" y="990" width="27.93" height="23.34" fill="#e8edfc"/>
<rect x="574.03" y="990" width="27.93" height="23.34" fill="#f8a7a7"/>
<rect x="601.46" y="990" width="27.93" height="23.34" fill="#f57e7e"/>
<rect x="80.2" y="1012.84" width="27.93" height="23.34" fill="#ecf0fd"/>
<rect x="107.63" y="1012.84" width="27.93" height="23.34" fill="#eff2fd"/>
<rect x="135.07" y="1012.84" width="27.93" height="23.34" fill="#dce3fb"/>
<rect x="162.5" y="1012.84" width="27.93" height="23.34" fill="#dee5fb"/>
<rect x="189.94" y="1012.84" width="27.93" height="23.34" fill="#bdc9f7"/>
<rect x="217.38" y="1012.84" width="27.93" height="23.34" fill="#c0ccf7"/>
<rect x="244.81" y="1012.84" width="27.93" height="23.34" fill="#becbf7"/>
<rect x="272.24" y="1012.84" width="27.93" height="23.34" fill="#b4c3f6"/>
<rect x="299.68" y="1012.84" width="27.93" height="23.34" fill="#b7c5f6"/>
<rect x="327.11" y="1012.84" width="27.93" height="23.34" fill="#bdc9f7"/>
<rect x="354.55" y="1012.84" width="27.93" height="23.34" fill="#bbc8f7"/>
<rect x="381.98" y="1012.84" width="27.93" height="23.34" fill="#ec0000"/>
<rect x="409.42" y="1012.84" width="27.93" height="23.34" fill="#fde8e8"/>
<rect x="436.85" y="1012.84" width="27.93" height="23.34" fill="#feebeb"/>
<rect x="464.29" y="1012.84" width="27.93" height="23.34" fill="#f9aeae"/>
<rect x="491.72" y="1012.84" width="27.93" height="23.34" fill="#f9a9a9"/>
<rect x="519.16" y="1012.84" width="27.93" height="23.34" fill="#f57f7f"/>
<rect x="546.59" y="1012.84" width="27.93" height="23.34" fill="#e8edfc"/>
<rect x="574.03" y="1012.84" width="27.93" height="23.34" fill="#f8a7a7"/>
<rect x="601.46" y="1012.84" width="27.93" height="23.34" fill="#f57e7e"/>
<rect x="80.2" y="1035.68" width="27.93" height="23.34" fill="#ecf0fd"/>
<rect x="107.63" y="1035.68" width="27.93" height="23.34" fill="#eff2fd"/>
<rect x="135.07" y="1035.68" width="27.93" height="23.34" fill="#dce3fb"/>
<rect x="162.5" y="1035.68" width="27.93" height="23.34" fill="#dee5fb"/>
<rect x="189.94" y="1035.68" width="27.93" height="23.34" fill="#bdc9f7"/>
<rect x="217.38" y="1035.68" width="27.93" height="23.34" fill="#c0ccf7"/>
<rect x="244.81" y="1035.68" width="27.93" height="23.34" fill="#becbf7"/>
<rect x="272.24" y="1035.68" width="27.93" height="23.34" fill="#b4c3f6"/>
<rect x="299.68" y="1035.68" width="27.93" height="23.34" fill="#b7c5f6"/>
<rect x="327.11" y="1035.68" width="27.93" height="23.34" fill="#bdc9f7"/>
<rect x="354.55" y="1035.68" width="27.93" height="23.34" fill="#bbc8f7"/>
<rect x="381.98" y="1035.68" width="27.93" height="23.34" fill="#ec0000"/>
<rect x="409.42" y="1035.68" width="27.93" height="23.34" fill="#fde8e8"/>
<rect x="436.85" y="1035.68" width="27.93" height="23.34" fill="#fef1f1"/>
<rect x="464.29" y="1035.68" width="27.93" height="23.34" fill="#f9acac"/>
<rect x="491.72" y="1035.68" width="27.93" height="23.34" fill="#f8a8a8"/>
<rect x="519.16" y="1035.68" width="27.93" height="23.34" fill="#f68585"/>
<rect x="546.59" y="1035.68" width="27.93" height="23.34" fill="#eaeefc"/>
<rect x="574.03" y="1035.68" width="27.93" height="23.34" fill="#f8a2a2"/>
<rect x="601.46" y="1035.68" width="27.93" height="23.34" fill="#f57d7d"/>
<rect x="80.2" y="1058.52" width="27.93" height="23.34" fill="#ecf0fd"/>
<rect x="107.63" y="1058.52" width="27.93" height="23.34" fill="#edf0fd"/>
<rect x="135.07" y="1058.52" width="27.93" height="23.34" fill="#dbe2fb"/>
<rect x="162.5" y="1058.52" width="27.93" height="23.34" fill="#dce3fb"/>
<rect x="189.94" y="1058.52" width="27.93" height="23.34" fill="#bbc8f7"/>
<rect x="217.38" y="1058.52" width="27.93" height="23.34" fill="#bfccf7"/>
<rect x="244.81" y="1058.52" width="27.93" height="23.34" fill="#bdcaf7"/>
<rect x="272.24" y="1058.52" width="27.93" height="23.34" fill="#b4c3f6"/>
<rect x="299.68" y="1058.52" width="27.93" height="23.34" fill="#b7c5f6"/>
<rect x="327.11" y="1058.52" width="27.93" height="23.34" fill="#bdc9f7"/>
<rect x="354.55" y="1058.52" width="27.93" height="23.34" fill="#bac7f6"/>
<rect x="381.98" y="1058.52" width="27.93" height="23.34" fill="#ec0303"/>
<rect x="409.42" y="1058.52" width="27.93" height="23.34" fill="#feeeee"/>
<rect x="436.85" y="1058.52" width="27.93" height="23.34" fill="#feebeb"/>
<rect x="464.29" y="1058.52" width="27.93" height="23.34" fill="#f9a9a9"/>
<rect x="491.72" y="1058.52" width="27.93" height="23.34" fill="#f8a3a3"/>
<rect x="519.16" y="1058.52" width="27.93" height="23.34" fill="#f57c7c"/>
<rect x="546.59" y="1058.52" width="27.93" height="23.34" fill="#e4e9fc"/>
<rect x="574.03" y="1058.52" width="27.93" height="23.34" fill="#f8a3a3"/>
<rect x="601.46" y="1058.52" width="27.93" height="23.34" fill="#f57c7c"/>
<rect x="80.2" y="1081.36" width="27.93" height="23.34" fill="#eaeefc"/>
<rect x="107.63" y="1081.36" width="27.93" height="23.34" fill="#dce2fb"/>
<rect x="135.07" y="1081.36" width="27.93" height="23.34" fill="#cad4f9"/>
<rect x="162.5" y="1081.36" width="27.93" height="23.34" fill="#d1daf9"/>
<rect x="189.94" y="1081.36" width="27.93" height="23.34" fill="#c7d2f8"/>
<rect x="217.38" y="1081.36" width="27.93" height="23.34" fill="#cbd5f9"/>
<rect x="244.81" y="1081.36" width="27.93" height="23.34" fill="#cdd7f9"/>
<rect x="272.24" y="1081.36" width="27.93" height="23.34" fill="#b0bff5"/>
<rect x="299.68" y="1081.36" width="27.93" height="23.34" fill="#b1c0f5"/>
<rect x="327.11" y="1081.36" width="27.93" height="23.34" fill="#bdc9f7"/>
<rect x="354.55" y="1081.36" width="27.93" height="23.34" fill="#b8c6f6"/>
<rect x="381.98" y="1081.36" width="27.93" height="23.34" fill="#ee2020"/>
<rect x="409.42" y="1081.36" width="27.93" height="23.34" fill="#fde2e2"/>
<rect x="436.85" y="1081.36" width="27.93" height="23.34" fill="#fffdfd"/>
<rect x="464.29" y="1081.36" width="27.93" height="23.34" fill="#f9a9a9"/>
<rect x="491.72" y="1081.36" width="27.93" height="23.34" fill="#fbc6c6"/>
<rect x="519.16" y="1081.36" width="27.93" height="23.34" fill="#f8a4a4"/>
<rect x="546.59" y="1081.36" width="27.93" height="23.34" fill="#fcdddd"/>
<rect x="574.03" y="1081.36" width="27.93" height="23.34" fill="#f68585"/>
<rect x="601.46" y="1081.36" width="27.93" height="23.34" fill="#f35c5c"/>
</g>
<rect x="628.9" y="874.8" width="3" height="231.4" fill="#fff"/>
<rect x="79.2" y="1104.2" width="552.7" height="3" fill="#fff"/>
<text transform="translate(103.12 870.6) rotate(-90)" font-size="18">Acs</text>
<text transform="translate(130.55 870.6) rotate(-90)" font-size="18">Mtd</text>
<text transform="translate(157.99 870.6) rotate(-90)" font-size="18">Mch</text>
<text transform="translate(185.42 870.6) rotate(-90)" font-size="18">Mer</text>
<text transform="translate(212.86 870.6) rotate(-90)" font-size="18">Mtb</text>
<text transform="translate(240.29 870.6) rotate(-90)" font-size="18">Mtm</text>
<text transform="translate(267.73 870.6) rotate(-90)" font-size="18">Mtt</text>
<text transform="translate(295.16 870.6) rotate(-90)" font-size="18">Ack</text>
<text transform="translate(322.6 870.6) rotate(-90)" font-size="18">Pta</text>
<text transform="translate(350.03 870.6) rotate(-90)" font-size="18">Cdh</text>
<text transform="translate(377.47 870.6) rotate(-90)" font-size="18">Mts</text>
<text transform="translate(404.9 870.6) rotate(-90)" font-size="18">Mtr</text>
<text transform="translate(432.34 870.6) rotate(-90)" font-size="18">Acd</text>
<text transform="translate(459.77 870.6) rotate(-90)" font-size="18">Ftr</text>
<text transform="translate(487.21 870.6) rotate(-90)" font-size="18">Mvh</text>
<text transform="translate(514.64 870.6) rotate(-90)" font-size="18">Fdh</text>
<text transform="translate(542.08 870.6) rotate(-90)" font-size="18">Fwd</text>
<text transform="translate(569.51 870.6) rotate(-90)" font-size="18">Mta</text>
<text transform="translate(596.95 870.6) rotate(-90)" font-size="18">Hdr</text>
<text transform="translate(624.38 870.6) rotate(-90)" font-size="18">Mcr</text>
<text x="633.6" y="895.52" font-size="18" text-anchor="start" fill="#000" >yak</text>
<text x="633.6" y="918.36" font-size="18" text-anchor="start" fill="#000" >camel</text>
<text x="633.6" y="941.2" font-size="18" text-anchor="start" fill="#000" >zebu</text>
<text x="633.6" y="964.04" font-size="18" text-anchor="start" fill="#000" >sheep</text>
<text x="633.6" y="986.88" font-size="18" text-anchor="start" fill="#000" >goat</text>
<text x="633.6" y="1009.72" font-size="18" text-anchor="start" fill="#000" >deer</text>
<text x="633.6" y="1032.56" font-size="18" text-anchor="start" fill="#000" >bison</text>
<text x="633.6" y="1055.4" font-size="18" text-anchor="start" fill="#000" >cow</text>
<text x="633.6" y="1078.24" font-size="18" text-anchor="start" fill="#000" >cattle</text>
<text x="633.6" y="1101.08" font-size="18" text-anchor="start" fill="#000" >buffalo</text>
<path d="M57.1 887.22V910.06M57.1 887.22H80.2M57.1 910.06H80.2M75.4 932.9V955.74M75.4 932.9H80.2M75.4 955.74H80.2M79.8 978.58V1001.42M79.8 978.58H80.2M79.8 1001.42H80.2M79.3 990V1024.26M79.3 990H79.8M79.3 1024.26H80.2M78.5 1007.13V1047.1M78.5 1007.13H79.3M78.5 1047.1H80.2M76.9 1027.12V1069.94M76.9 1027.12H78.5M76.9 1069.94H80.2M69.7 944.32V1048.53M69.7 944.32H75.4M69.7 1048.53H76.9M59.3 996.42V1092.78M59.3 996.42H69.7M59.3 1092.78H80.2M1 898.64V1044.6M1 898.64H57.1M1 1044.6H59.3M148.79 1104.8H176.22M148.79 1104.2V1104.8M176.22 1104.2V1104.8M121.35 1108.3H162.5M121.35 1104.2V1108.3M162.5 1104.8V1108.3M93.92 1115.2H141.93M93.92 1104.2V1115.2M141.93 1108.3V1115.2M231.09 1104.6H258.53M231.09 1104.2V1104.6M258.53 1104.2V1104.6M203.66 1106.5H244.81M203.66 1104.2V1106.5M244.81 1104.6V1106.5M285.96 1105H313.4M285.96 1104.2V1105M313.4 1104.2V1105M340.83 1105.5H368.27M340.83 1104.2V1105.5M368.27 1104.2V1105.5M299.68 1110.8H354.55M299.68 1105V1110.8M354.55 1105.5V1110.8M224.23 1119.9H327.11M224.23 1106.5V1119.9M327.11 1110.8V1119.9M117.92 1124.6H275.67M117.92 1115.2V1124.6M275.67 1119.9V1124.6M196.8 1124.6V1183M423.14 1115.4H450.57M423.14 1104.2V1115.4M450.57 1104.2V1115.4M505.44 1113.4H532.88M505.44 1104.2V1113.4M532.88 1104.2V1113.4M478.01 1115.4H519.16M478.01 1104.2V1115.4M519.16 1113.4V1115.4M436.85 1128.5H498.58M436.85 1115.4V1128.5M498.58 1115.4V1128.5M587.75 1113.4H615.18M587.75 1104.2V1113.4M615.18 1104.2V1113.4M560.31 1136.7H601.46M560.31 1104.2V1136.7M601.46 1113.4V1136.7M467.72 1143.2H580.89M467.72 1128.5V1143.2M580.89 1136.7V1143.2M395.7 1163.3H524.3M395.7 1104.2V1163.3M524.3 1143.2V1163.3M460 1163.3V1183" fill="none" stroke="#000" stroke-width="1.2" stroke-linecap="square"/>
<rect x="12.3" y="1167.6" width="157.2" height="11.8" fill="url(#lg)"/>
<text transform="translate(35.8 1158) rotate(-90)" font-size="18">2</text>
<text transform="translate(66 1158) rotate(-90)" font-size="18">1</text>
<text transform="translate(96.7 1158) rotate(-90)" font-size="18">0</text>
<text transform="translate(127 1158) rotate(-90)" font-size="18">−1</text>
<text transform="translate(158.5 1158) rotate(-90)" font-size="18">−2</text>
</svg>
</body></html>
